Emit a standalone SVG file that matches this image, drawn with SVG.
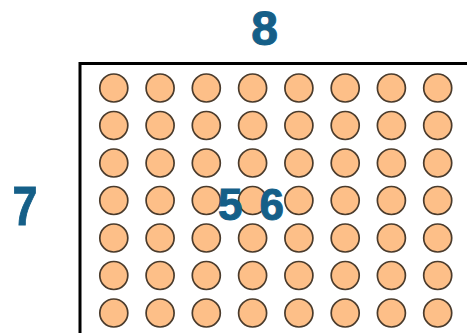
<svg xmlns="http://www.w3.org/2000/svg" width="467" height="336" viewBox="0 0 467 336">
<style>
.dot{fill:#FDBF88;stroke:#4a3b2c;stroke-width:1.7}
.num{font-family:"Liberation Sans",Arial,sans-serif;font-weight:bold;fill:#155f88;stroke:#155f88;stroke-width:1;text-anchor:middle}
.frame{fill:none;stroke:#000;stroke-width:3}
</style>
<rect width="467" height="336" fill="#fff"/>
<defs>
<circle id="c" r="14" class="dot"/>
<g id="row">
<use href="#c" x="113.8"/><use href="#c" x="160.1"/><use href="#c" x="206.3"/><use href="#c" x="252.6"/>
<use href="#c" x="298.9"/><use href="#c" x="345.2"/><use href="#c" x="391.4"/><use href="#c" x="437.7"/>
</g>
</defs>
<g id="frame"><path class="frame" d="M80,333 V63.5 H467"/></g>
<g id="dots">
<use href="#row" y="88"/>
<use href="#row" y="125.5"/>
<use href="#row" y="163"/>
<use href="#row" y="200.5"/>
<use href="#row" y="238"/>
<use href="#row" y="275.5"/>
<use href="#row" y="313"/>
</g>
<g id="label-top"><text class="num" x="264.7" y="45" font-size="48">8</text></g>
<g id="label-left"><text class="num" font-size="56" transform="translate(25,225) scale(0.8,1)">7</text></g>
<g id="label-center"><text class="num" x="251" y="220" font-size="44" word-spacing="5">5 6</text></g>
</svg>
